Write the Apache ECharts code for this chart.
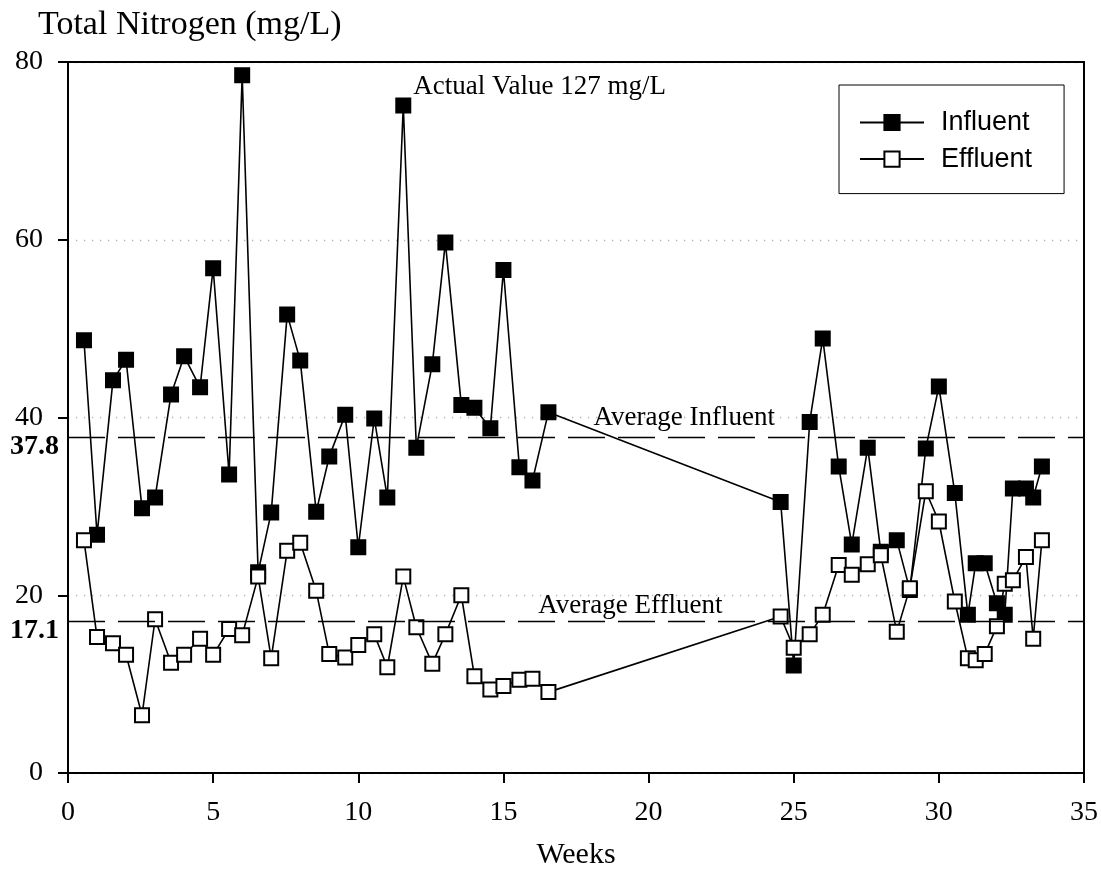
<!DOCTYPE html>
<html>
<head>
<meta charset="utf-8">
<title>Total Nitrogen</title>
<script src="https://cdn.jsdelivr.net/npm/echarts@6/dist/echarts.min.js"></script>
<style>
  html, body { margin: 0; padding: 0; background: #fff; }
  #chart { width: 1101px; height: 888px; }
</style>
</head>
<body>
<div id="chart"></div>
<script>
// Sampling times (weeks since start)
const weeks = [
  0.55, 1, 1.55, 2, 2.55, 3, 3.55, 4, 4.55, 5,
  5.55, 6, 6.55, 7, 7.55, 8, 8.55, 9, 9.55, 10,
  10.55, 11, 11.55, 12, 12.55, 13, 13.55, 14, 14.55, 15,
  15.55, 16, 16.55,
  24.55, 25, 25.55, 26, 26.55, 27, 27.55, 28, 28.55, 29,
  29.55, 30, 30.55, 31, 31.27, 31.58, 32, 32.27, 32.55, 33,
  33.25, 33.55
];

// Influent total nitrogen, mg/L (the week 11.5 sample is plotted at the top of the scale)
const influent = [
  48.7, 26.8, 44.2, 46.5, 29.8, 31.0, 42.6, 46.9, 43.4, 56.8,
  33.6, 78.5, 22.6, 29.3, 51.6, 46.4, 29.4, 35.6, 40.3, 25.4,
  39.9, 31.0, 75.1, 36.6, 46.0, 59.7, 41.4, 41.1, 38.8, 56.6,
  34.4, 32.9, 40.6,
  30.5, 12.1, 39.5, 48.9, 34.5, 25.7, 36.6, 24.9, 26.2, 20.6,
  36.5, 43.5, 31.5, 17.8, 23.6, 23.6, 19.1, 17.8, 32.0, 32.0,
  31.0, 34.5
];

// Effluent total nitrogen, mg/L
const effluent = [
  26.2, 15.3, 14.6, 13.3, 6.5, 17.3, 12.4, 13.3, 15.1, 13.3,
  16.2, 15.5, 22.1, 12.9, 25.0, 25.9, 20.5, 13.4, 13.0, 14.4,
  15.6, 11.9, 22.1, 16.4, 12.3, 15.6, 20.0, 10.9, 9.4, 9.8,
  10.5, 10.6, 9.1,
  17.6, 14.1, 15.6, 17.8, 23.4, 22.3, 23.5, 24.5, 15.9, 20.8,
  31.7, 28.3, 19.3, 12.9, 12.7, 13.4, 16.5, 21.3, 21.7, 24.3,
  15.1, 26.2
];

const avgInfluent = 37.8;
const avgEffluent = 17.1;

// Off-scale influent reading: index in the series and its measured value
const offScaleIndex = 22;
const offScaleActual = 127;

const xTicks = [0, 5, 10, 15, 20, 25, 30, 35];
const yTicks = [0, 20, 40, 60, 80];

// Text notes placed in data coordinates (left-middle anchor)
const notes = [
  { text: 'Average Influent', week: 18.1, value: 40.0 },
  { text: 'Average Effluent', week: 16.2, value: 18.8 }
];

const serif = 'Liberation Serif';
const sans = 'Liberation Sans';

const influentData = weeks.map((w, i) => {
  const item = { value: [w, influent[i]] };
  if (i === offScaleIndex) {
    item.label = {
      show: true,
      position: 'right',
      distance: 2,
      offset: [0, -19],
      formatter: 'Actual Value ' + offScaleActual + ' mg/L',
      fontFamily: serif,
      fontSize: 27,
      color: '#000'
    };
  }
  return item;
});
const effluentData = weeks.map((w, i) => [w, effluent[i]]);

const averageLine = (v) => ({
  silent: true,
  symbol: ['none', 'none'],
  label: { show: false },
  lineStyle: { color: '#000', width: 1.3, type: [37, 13], opacity: 1 },
  data: [{ yAxis: v }]
});

const xRange = { min: xTicks[0], max: xTicks[xTicks.length - 1], interval: xTicks[1] - xTicks[0] };
const yRange = { min: yTicks[0], max: yTicks[yTicks.length - 1], interval: yTicks[1] - yTicks[0] };
const frameLine = { show: true, onZero: false, lineStyle: { color: '#000', width: 2 } };

const chart = echarts.init(document.getElementById('chart'), null, { renderer: 'canvas' });

chart.setOption({
  backgroundColor: '#fff',
  animation: false,
  title: {
    text: 'Total Nitrogen (mg/L)',
    left: 38,
    top: 8,
    padding: 0,
    textStyle: { fontFamily: serif, fontSize: 34, fontWeight: 'normal', color: '#000' }
  },
  legend: {
    orient: 'vertical',
    left: 839,
    top: 85,
    padding: [24, 32, 21, 20],
    itemGap: 9.6,
    itemWidth: 64,
    itemHeight: 19,
    borderColor: '#000',
    borderWidth: 1,
    backgroundColor: '#fff',
    textStyle: { fontFamily: sans, fontSize: 27, color: '#000', padding: [0, 0, 0, 12] },
    data: ['Influent', 'Effluent']
  },
  grid: { left: 68, top: 62, right: 15, bottom: 115, show: false },
  xAxis: [
    {
      type: 'value',
      ...xRange,
      name: 'Weeks',
      nameLocation: 'middle',
      nameGap: 67,
      nameTextStyle: { fontFamily: serif, fontSize: 30, color: '#000' },
      axisLine: { lineStyle: { color: '#000', width: 2 } },
      axisTick: { inside: false, length: 10, lineStyle: { color: '#000', width: 2 } },
      axisLabel: { margin: 26, fontFamily: serif, fontSize: 28, color: '#000' },
      splitLine: { show: false }
    },
    {
      // top edge of the frame
      type: 'value',
      position: 'top',
      ...xRange,
      axisLine: frameLine,
      axisTick: { show: false },
      axisLabel: { show: false },
      splitLine: { show: false }
    }
  ],
  yAxis: [
    {
      type: 'value',
      ...yRange,
      axisLine: { show: true, lineStyle: { color: '#000', width: 2 } },
      axisTick: { show: true, inside: false, length: 10, lineStyle: { color: '#000', width: 2 } },
      axisLabel: { margin: 25, fontFamily: serif, fontSize: 28, color: '#000' },
      splitLine: { show: true, lineStyle: { color: '#b5b5b5', width: 1.3, type: [1.3, 6.7] } }
    },
    {
      // right edge of the frame
      type: 'value',
      position: 'right',
      ...yRange,
      axisLine: frameLine,
      axisTick: { show: false },
      axisLabel: { show: false },
      splitLine: { show: false }
    }
  ],
  series: [
    {
      name: 'Influent',
      type: 'line',
      data: influentData,
      symbol: 'rect',
      symbolSize: 14,
      lineStyle: { color: '#000', width: 1.6 },
      itemStyle: { color: '#000', borderColor: '#000', borderWidth: 2 },
      markLine: averageLine(avgInfluent),
      z: 3
    },
    {
      name: 'Effluent',
      type: 'line',
      data: effluentData,
      symbol: 'rect',
      symbolSize: 14,
      lineStyle: { color: '#000', width: 1.6 },
      itemStyle: { color: '#fff', borderColor: '#000', borderWidth: 2 },
      markLine: averageLine(avgEffluent),
      z: 4
    }
  ]
});

// Average values beside the y axis and the text notes, placed through the axes' scales
const px = (x, y) => chart.convertToPixel({ gridIndex: 0 }, [x, y]);
const origin = px(0, 0);
const texts = [];
[avgInfluent, avgEffluent].forEach((v) => {
  const p = px(0, v);
  texts.push({
    type: 'text',
    x: origin[0] - 9,
    y: p[1] + 10,
    z: 10,
    style: {
      text: v.toFixed(1),
      font: 'bold 28px "' + serif + '"',
      fill: '#000',
      align: 'right',
      verticalAlign: 'middle'
    }
  });
});
notes.forEach((n) => {
  const p = px(n.week, n.value);
  texts.push({
    type: 'text',
    x: p[0],
    y: p[1],
    z: 10,
    style: {
      text: n.text,
      font: '27px "' + serif + '"',
      fill: '#000',
      align: 'left',
      verticalAlign: 'middle'
    }
  });
});
chart.setOption({ graphic: texts });
</script>
</body>
</html>
